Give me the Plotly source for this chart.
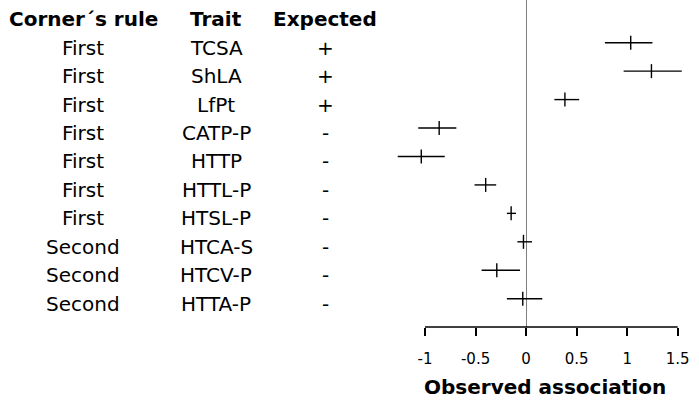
import plotly.graph_objects as go

rules = ["First"] * 7 + ["Second"] * 3
traits = ["TCSA", "ShLA", "LfPt", "CATP-P", "HTTP", "HTTL-P", "HTSL-P", "HTCA-S", "HTCV-P", "HTTA-P"]
expected = ["+", "+", "+", "-", "-", "-", "-", "-", "-", "-"]
est = [1.035, 1.24, 0.384, -0.86, -1.037, -0.40, -0.148, -0.026, -0.29, -0.033]
lo = [0.78, 0.965, 0.28, -1.067, -1.27, -0.51, -0.19, -0.086, -0.44, -0.19]
hi = [1.25, 1.54, 0.525, -0.69, -0.805, -0.296, -0.10, 0.059, -0.06, 0.16]
tick_vals = [-1, -0.5, 0, 0.5, 1, 1.5]
tick_text = ["-1", "-0.5", "0", "0.5", "1", "1.5"]
headers = ["Corner\u00b4s rule", "Trait", "Expected"]

idx = list(range(len(traits)))
W, H = 699, 402
FONT = "DejaVu Sans"

fig = go.Figure()
fig.add_trace(go.Scatter(
    x=est, y=idx, mode="markers",
    marker=dict(symbol="line-ns", size=10, line=dict(color="black", width=1.4)),
    error_x=dict(type="data", symmetric=False,
                 array=[h - e for h, e in zip(hi, est)],
                 arrayminus=[e - l for e, l in zip(est, lo)],
                 width=0, color="black", thickness=1.4),
    showlegend=False, hoverinfo="skip",
))

ybot = (H - 327) / H
fig.update_layout(
    width=W, height=H, margin=dict(l=0, r=0, t=0, b=0),
    paper_bgcolor="white", plot_bgcolor="white",
    xaxis=dict(domain=[380 / W, 1], range=[(380 - 526.1) / 101.08, (699 - 526.1) / 101.08],
               showgrid=False, showline=False, zeroline=True, zerolinecolor="#808080",
               zerolinewidth=1.2, tickvals=tick_vals, ticktext=tick_text, ticks="outside",
               ticklen=8, tickwidth=1.5, tickcolor="black", ticklabelstandoff=10,
               tickfont=dict(family=FONT, size=15, color="black")),
    yaxis=dict(domain=[ybot, 1], range=[9.995, -1.501], visible=False),
)

fig.add_shape(type="line", xref="x", yref="paper", x0=tick_vals[0], x1=tick_vals[-1],
              y0=ybot, y1=ybot, line=dict(color="black", width=1.5))

colx = [83 / W, 216 / W, 325 / W]
for cx, h in zip(colx, headers):
    fig.add_annotation(x=cx, xref="paper", y=-1, yref="y", text=h, showarrow=False,
                       xanchor="center", yanchor="middle", yshift=-5,
                       font=dict(family=FONT, size=20, color="black", weight="bold"))
for i in idx:
    for cx, t in zip(colx, [rules[i], traits[i], expected[i]]):
        fig.add_annotation(x=cx, xref="paper", y=i, yref="y", text=t, showarrow=False,
                           xanchor="center", yanchor="middle", yshift=-5,
                           font=dict(family=FONT, size=20, color="black"))

fig.add_annotation(x=545 / W, xref="paper", y=(H - 387) / H, yref="paper",
                   text="Observed association", showarrow=False,
                   xanchor="center", yanchor="middle",
                   font=dict(family=FONT, size=20, color="black", weight="bold"))

fig.write_html("out.html", config={"displayModeBar": False},
               post_script="document.body.style.margin='0';document.body.style.overflow='hidden';")
